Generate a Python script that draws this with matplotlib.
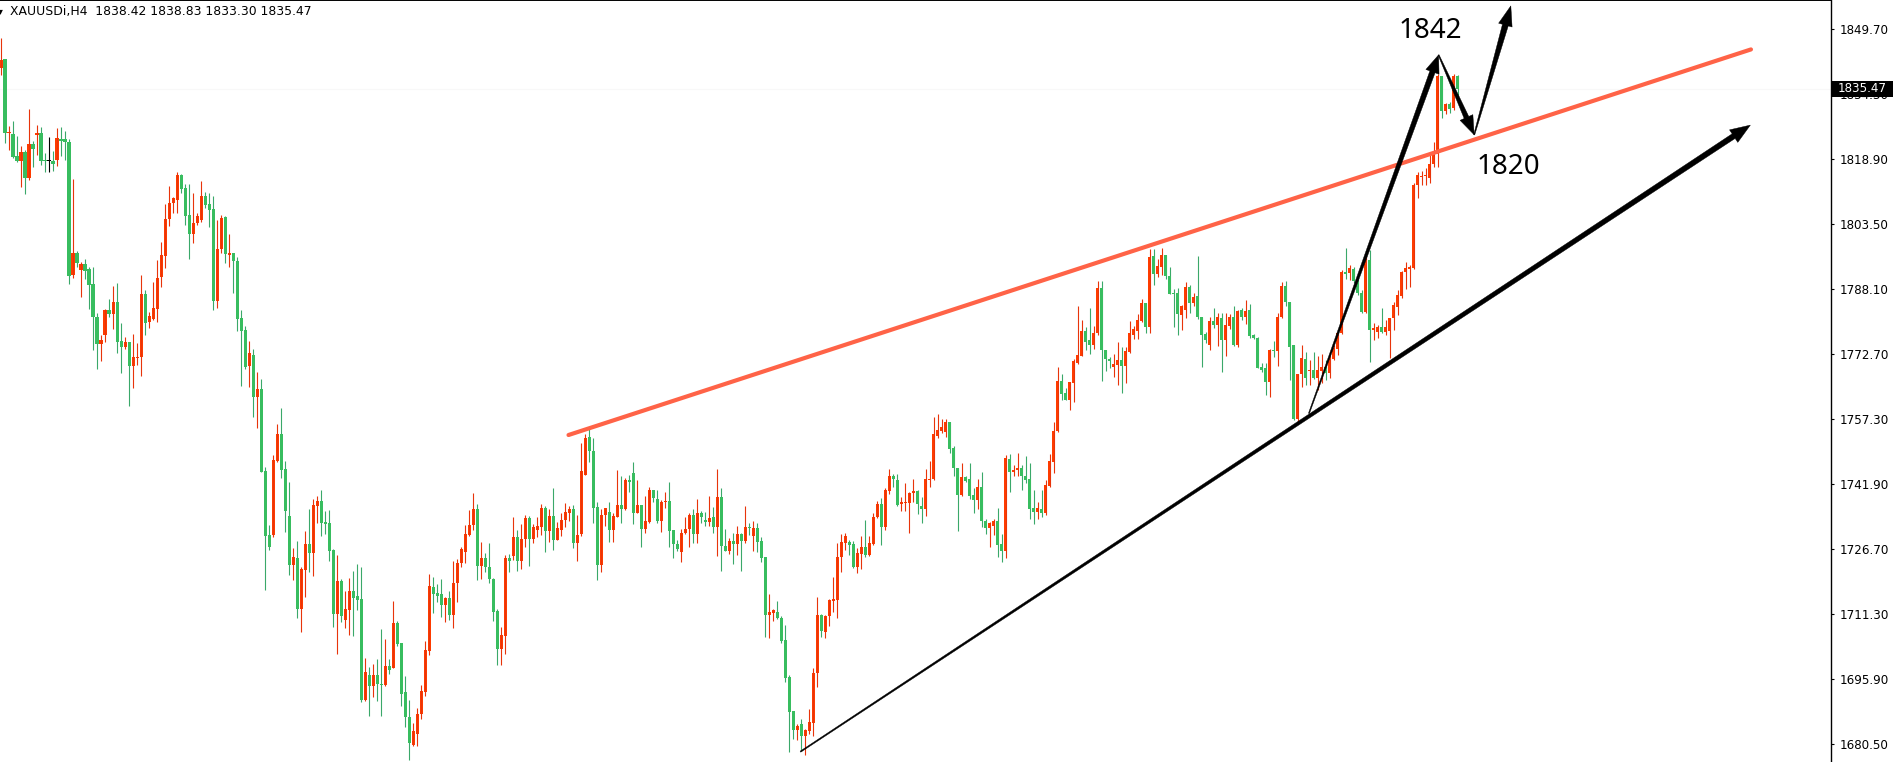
import numpy as np
import matplotlib
matplotlib.use("Agg")
import matplotlib.pyplot as plt
from matplotlib.patches import Polygon, Rectangle
from matplotlib.transforms import blended_transform_factory

# XAUUSDi H4 candles (oldest -> newest)
opens = [
    1840.3, 1842.5, 1825.1, 1824.8, 1819.6, 1818.5, 1820.5, 1814.5, 1822.4, 1824.6,
    1825.0, 1818.7, 1818.3, 1818.4, 1818.7, 1823.7, 1823.6, 1822.9, 1791.5, 1796.7,
    1792.6, 1794.1, 1792.9, 1789.3, 1781.5, 1775.2, 1777.3, 1783.2, 1782.3, 1785.1,
    1775.8, 1774.3, 1775.7, 1770.0, 1771.8, 1772.0, 1787.0, 1780.4, 1781.1, 1783.3,
    1790.9, 1796.0, 1804.6, 1808.4, 1809.3, 1815.1, 1812.0, 1805.6, 1801.2, 1803.7,
    1804.5, 1810.1, 1808.2, 1807.0, 1785.4, 1797.5, 1805.2, 1796.2, 1796.6, 1794.8,
    1781.3, 1778.4, 1769.9, 1772.5, 1762.7, 1764.4, 1745.1, 1730.0, 1730.0, 1747.5,
    1753.8, 1745.6, 1734.4, 1722.9, 1724.4, 1712.5, 1721.7, 1727.8, 1725.6, 1736.9,
    1738.0, 1733.0, 1732.7, 1726.4, 1711.3, 1719.1, 1709.9, 1712.2, 1716.6, 1715.5,
    1714.8, 1690.9, 1696.8, 1694.3, 1696.8, 1694.7, 1694.5, 1699.0, 1698.6, 1709.1,
    1704.3, 1692.7, 1686.8, 1680.3, 1683.0, 1687.5, 1692.9, 1702.6, 1717.7, 1716.2,
    1716.0, 1713.4, 1715.0, 1711.0, 1718.5, 1723.3, 1726.0, 1730.0, 1732.2, 1736.1,
    1722.7, 1724.4, 1722.4, 1719.6, 1712.0, 1703.0, 1706.1, 1724.5, 1725.0, 1729.5,
    1723.9, 1728.9, 1734.0, 1729.0, 1731.1, 1731.9, 1736.3, 1730.9, 1734.5, 1728.8,
    1731.1, 1733.5, 1735.2, 1736.0, 1728.1, 1730.2, 1744.2, 1753.1, 1749.8, 1736.5,
    1722.9, 1734.6, 1735.3, 1731.1, 1734.3, 1737.1, 1736.0, 1743.0, 1744.5, 1735.2,
    1737.1, 1731.4, 1733.1, 1740.6, 1738.5, 1733.3, 1737.7, 1738.0, 1731.1, 1727.8,
    1726.0, 1730.4, 1731.3, 1734.7, 1730.1, 1735.1, 1733.5, 1733.1, 1734.1, 1731.9,
    1738.9, 1727.4, 1726.2, 1728.5, 1727.8, 1730.2, 1728.6, 1731.8, 1729.7, 1731.5,
    1728.6, 1724.7, 1711.1, 1711.6, 1711.8, 1710.3, 1705.1, 1696.4, 1688.3, 1683.8,
    1685.3, 1682.3, 1683.7, 1685.6, 1697.2, 1711.0, 1706.9, 1710.8, 1714.4, 1714.6,
    1724.7, 1728.0, 1728.2, 1727.8, 1722.5, 1725.5, 1727.0, 1725.2, 1727.8, 1734.1,
    1737.4, 1731.9, 1740.4, 1743.8, 1743.0, 1737.3, 1737.6, 1737.6, 1740.0, 1740.4,
    1736.9, 1736.1, 1742.9, 1743.1, 1753.4, 1754.6, 1754.4, 1756.6, 1750.6, 1745.9,
    1739.4, 1743.6, 1743.2, 1739.4, 1738.2, 1741.2, 1733.3, 1731.5, 1732.1, 1733.3,
    1727.8, 1726.2, 1747.9, 1744.9, 1745.3, 1745.7, 1743.9, 1743.1, 1736.3, 1735.5,
    1736.0, 1735.1, 1741.6, 1747.3, 1754.5, 1766.4, 1763.6, 1761.9, 1766.0, 1770.6,
    1772.4, 1778.2, 1776.1, 1774.9, 1777.7, 1788.3, 1773.7, 1771.6, 1769.6, 1770.2,
    1771.4, 1770.0, 1773.3, 1777.3, 1778.3, 1780.6, 1784.8, 1779.2, 1795.9, 1791.7,
    1793.4, 1796.2, 1791.2, 1787.1, 1787.1, 1782.0, 1783.2, 1788.5, 1784.8, 1786.5,
    1781.4, 1777.5, 1775.0, 1780.6, 1779.6, 1781.2, 1776.1, 1779.4, 1781.4, 1774.9,
    1783.2, 1781.4, 1783.2, 1777.3, 1776.6, 1769.8, 1769.5, 1766.2, 1773.7, 1773.5,
    1781.6, 1788.9, 1785.1, 1774.9, 1757.3, 1768.0, 1771.5, 1768.7, 1768.9, 1767.0,
    1768.8, 1769.8, 1768.2, 1771.6, 1773.9, 1777.7, 1792.2, 1792.0, 1792.8, 1790.1,
    1787.1, 1782.8, 1795.0, 1778.4, 1778.0, 1779.1, 1778.0, 1778.2, 1781.2, 1783.9,
    1786.5, 1792.2, 1792.8, 1793.0, 1812.7, 1814.7, 1814.85, 1814.3, 1817.8, 1820.1,
    1838.5, 1830.3, 1832.0, 1830.9, 1838.42,
]
highs = [
    1847.4, 1842.5, 1826.7, 1827.9, 1824.3, 1822.0, 1820.9, 1830.7, 1823.2, 1826.9,
    1826.5, 1820.2, 1824.1, 1820.8, 1826.2, 1826.5, 1825.5, 1823.6, 1814.2, 1797.2,
    1794.5, 1795.2, 1793.4, 1793.3, 1782.4, 1777.3, 1783.3, 1785.8, 1788.8, 1789.6,
    1780.0, 1776.8, 1775.7, 1777.5, 1775.3, 1791.5, 1787.8, 1782.8, 1789.8, 1795.1,
    1799.3, 1808.2, 1812.5, 1810.0, 1815.8, 1815.3, 1813.0, 1812.9, 1810.9, 1806.2,
    1813.7, 1811.0, 1810.8, 1810.1, 1804.5, 1805.6, 1805.4, 1801.1, 1796.6, 1795.8,
    1783.2, 1779.4, 1775.9, 1774.0, 1768.5, 1766.8, 1746.0, 1732.3, 1748.9, 1756.2,
    1759.9, 1747.5, 1742.6, 1726.8, 1728.5, 1722.5, 1730.9, 1736.0, 1738.5, 1739.2,
    1740.6, 1735.6, 1735.9, 1726.6, 1725.2, 1719.5, 1716.7, 1719.7, 1721.4, 1723.2,
    1722.3, 1700.8, 1698.7, 1699.4, 1700.6, 1707.7, 1705.4, 1700.6, 1714.3, 1709.6,
    1704.3, 1696.6, 1690.9, 1685.6, 1689.1, 1694.5, 1704.9, 1720.7, 1719.9, 1718.4,
    1719.5, 1715.4, 1716.7, 1723.8, 1724.2, 1727.0, 1732.3, 1735.9, 1739.9, 1737.3,
    1728.2, 1725.6, 1728.0, 1719.8, 1712.5, 1708.3, 1725.2, 1725.5, 1734.2, 1731.1,
    1732.6, 1734.7, 1734.5, 1732.5, 1734.2, 1737.3, 1736.8, 1736.1, 1741.0, 1733.1,
    1735.1, 1737.6, 1736.8, 1737.1, 1734.7, 1751.8, 1753.8, 1755.4, 1752.8, 1737.7,
    1736.1, 1736.3, 1737.7, 1735.1, 1745.3, 1743.8, 1743.5, 1744.2, 1747.1, 1743.0,
    1737.1, 1739.2, 1741.2, 1740.6, 1740.6, 1738.2, 1740.2, 1742.6, 1731.1, 1728.8,
    1731.4, 1734.3, 1735.1, 1736.0, 1738.5, 1735.7, 1735.3, 1739.2, 1736.5, 1745.5,
    1741.0, 1731.4, 1729.3, 1730.5, 1732.1, 1730.5, 1736.8, 1732.9, 1733.3, 1732.7,
    1729.4, 1724.8, 1716.0, 1712.5, 1714.4, 1710.8, 1708.7, 1696.8, 1688.3, 1685.3,
    1686.4, 1684.0, 1688.7, 1698.4, 1715.4, 1711.3, 1711.0, 1714.8, 1719.9, 1728.1,
    1730.3, 1730.5, 1728.8, 1728.6, 1726.8, 1729.7, 1733.5, 1729.7, 1735.1, 1738.0,
    1738.6, 1741.0, 1745.5, 1744.4, 1744.4, 1739.0, 1742.3, 1740.2, 1743.2, 1740.6,
    1739.0, 1745.5, 1747.5, 1757.8, 1758.5, 1757.3, 1757.4, 1756.6, 1750.9, 1745.9,
    1746.9, 1743.9, 1746.9, 1741.0, 1743.1, 1744.9, 1733.7, 1733.1, 1733.7, 1736.3,
    1730.1, 1748.9, 1749.1, 1746.5, 1749.3, 1746.5, 1748.6, 1746.9, 1740.6, 1737.8,
    1740.6, 1743.0, 1749.1, 1756.7, 1769.8, 1768.0, 1764.7, 1766.1, 1771.5, 1784.0,
    1780.8, 1779.2, 1783.7, 1779.5, 1790.1, 1790.1, 1773.7, 1772.0, 1772.8, 1775.5,
    1774.5, 1774.3, 1780.6, 1779.5, 1782.2, 1785.8, 1784.8, 1797.6, 1797.6, 1795.2,
    1797.8, 1796.2, 1793.4, 1788.1, 1788.3, 1784.4, 1789.9, 1789.1, 1787.1, 1796.0,
    1781.4, 1777.9, 1781.4, 1783.6, 1782.4, 1782.4, 1782.4, 1782.2, 1784.0, 1783.2,
    1783.6, 1785.5, 1784.5, 1777.5, 1776.9, 1770.6, 1770.6, 1774.0, 1775.9, 1782.4,
    1789.9, 1790.0, 1785.1, 1774.9, 1768.1, 1774.9, 1773.3, 1771.3, 1773.3, 1772.3,
    1772.7, 1771.3, 1772.9, 1774.9, 1778.4, 1792.6, 1797.8, 1793.8, 1793.4, 1790.7,
    1787.9, 1796.6, 1797.4, 1780.0, 1779.6, 1783.6, 1780.8, 1781.3, 1785.1, 1787.9,
    1792.5, 1794.6, 1793.8, 1813.1, 1815.7, 1816.1, 1816.7, 1820.6, 1823.0, 1839.1,
    1838.6, 1832.2, 1832.4, 1839.0, 1838.83,
]
lows = [
    1838.7, 1822.7, 1820.9, 1819.2, 1818.2, 1812.3, 1810.5, 1813.9, 1817.1, 1819.8,
    1817.5, 1815.9, 1815.9, 1816.1, 1817.2, 1819.6, 1818.7, 1789.3, 1790.7, 1793.4,
    1786.3, 1790.4, 1783.5, 1773.7, 1769.2, 1771.0, 1775.7, 1781.4, 1778.7, 1773.1,
    1768.2, 1773.9, 1760.5, 1764.8, 1770.2, 1767.6, 1777.2, 1778.8, 1780.8, 1780.4,
    1788.7, 1793.2, 1803.1, 1806.0, 1806.0, 1810.8, 1803.3, 1795.3, 1798.9, 1803.3,
    1804.1, 1807.2, 1802.9, 1783.2, 1783.6, 1796.7, 1794.4, 1793.3, 1787.1, 1778.2,
    1765.3, 1769.1, 1765.0, 1757.9, 1755.3, 1744.8, 1716.9, 1726.4, 1729.5, 1747.3,
    1743.4, 1730.7, 1720.5, 1719.3, 1710.4, 1707.1, 1715.4, 1721.3, 1720.3, 1732.7,
    1729.8, 1730.2, 1723.8, 1708.3, 1701.8, 1709.4, 1707.9, 1706.3, 1706.0, 1712.2,
    1690.5, 1690.8, 1687.2, 1691.6, 1690.8, 1687.2, 1694.3, 1697.0, 1698.5, 1703.7,
    1689.5, 1684.6, 1676.7, 1680.1, 1680.1, 1686.4, 1691.9, 1701.6, 1711.6, 1714.2,
    1710.6, 1709.4, 1709.9, 1708.0, 1714.2, 1722.5, 1723.3, 1729.7, 1731.1, 1719.2,
    1719.5, 1721.3, 1718.7, 1709.7, 1699.1, 1699.2, 1701.8, 1721.3, 1724.0, 1721.5,
    1721.9, 1727.0, 1722.7, 1728.1, 1729.4, 1730.0, 1726.0, 1728.2, 1726.4, 1728.7,
    1729.6, 1731.9, 1733.3, 1726.8, 1723.8, 1729.7, 1744.1, 1747.3, 1732.7, 1719.2,
    1721.3, 1732.1, 1728.4, 1728.4, 1734.1, 1732.9, 1735.9, 1740.2, 1732.5, 1735.1,
    1727.2, 1730.5, 1732.7, 1737.8, 1732.9, 1730.7, 1736.3, 1727.2, 1724.6, 1726.2,
    1723.6, 1730.3, 1727.0, 1728.1, 1728.1, 1732.7, 1732.1, 1732.1, 1730.5, 1724.9,
    1721.5, 1726.1, 1725.5, 1723.1, 1725.2, 1721.5, 1728.0, 1730.0, 1726.2, 1726.0,
    1723.6, 1705.9, 1705.7, 1709.7, 1710.0, 1704.5, 1695.3, 1678.7, 1681.6, 1681.5,
    1678.9, 1677.9, 1683.0, 1682.3, 1693.9, 1705.9, 1705.7, 1708.4, 1711.8, 1710.4,
    1721.3, 1726.4, 1725.2, 1722.1, 1721.0, 1721.8, 1724.8, 1725.0, 1727.6, 1733.9,
    1727.6, 1731.1, 1739.6, 1741.4, 1736.8, 1735.7, 1735.7, 1730.5, 1737.8, 1734.9,
    1732.9, 1734.5, 1741.4, 1742.9, 1753.0, 1754.0, 1753.1, 1749.3, 1744.0, 1731.0,
    1739.2, 1742.6, 1738.4, 1735.1, 1736.0, 1731.9, 1730.2, 1727.2, 1730.0, 1724.8,
    1723.6, 1724.4, 1740.2, 1743.8, 1743.8, 1740.6, 1742.2, 1733.7, 1732.5, 1733.7,
    1734.3, 1734.7, 1741.4, 1744.5, 1754.4, 1761.9, 1761.9, 1759.5, 1761.3, 1770.4,
    1772.2, 1773.6, 1772.8, 1773.9, 1777.3, 1766.4, 1768.8, 1769.5, 1767.4, 1765.4,
    1763.5, 1766.0, 1773.1, 1776.2, 1776.2, 1780.4, 1777.7, 1777.7, 1789.1, 1790.9,
    1791.5, 1790.4, 1786.9, 1779.2, 1777.3, 1778.4, 1781.2, 1782.4, 1784.0, 1781.0,
    1769.8, 1775.3, 1773.7, 1778.8, 1774.7, 1768.6, 1772.4, 1778.6, 1774.7, 1774.5,
    1780.8, 1779.9, 1776.5, 1776.2, 1769.5, 1768.6, 1763.1, 1762.5, 1772.0, 1770.0,
    1781.2, 1784.0, 1766.6, 1757.2, 1756.7, 1765.0, 1765.4, 1765.4, 1766.9, 1764.3,
    1765.8, 1766.6, 1767.0, 1771.3, 1772.5, 1777.6, 1790.4, 1790.3, 1789.6, 1786.7,
    1782.4, 1782.4, 1770.9, 1776.1, 1776.5, 1777.7, 1777.3, 1771.7, 1778.4, 1782.0,
    1785.9, 1788.1, 1788.7, 1792.8, 1809.6, 1812.7, 1812.7, 1813.1, 1817.1, 1817.1,
    1828.5, 1829.5, 1829.7, 1830.5, 1833.30,
]
closes = [
    1842.3, 1825.1, 1825.3, 1819.4, 1818.5, 1820.5, 1814.5, 1822.4, 1821.3, 1825.0,
    1818.5, 1818.3, 1818.3, 1817.8, 1823.9, 1823.2, 1822.8, 1791.3, 1796.7, 1794.2,
    1794.1, 1792.5, 1789.1, 1781.4, 1775.2, 1776.1, 1783.2, 1782.2, 1785.1, 1775.7,
    1774.3, 1775.6, 1770.0, 1772.0, 1772.0, 1787.0, 1780.2, 1781.7, 1783.6, 1790.7,
    1796.1, 1804.7, 1808.4, 1809.7, 1815.1, 1811.9, 1805.5, 1801.2, 1803.7, 1805.3,
    1810.1, 1808.1, 1806.8, 1785.4, 1797.5, 1804.9, 1796.3, 1796.6, 1794.8, 1781.1,
    1778.3, 1769.8, 1772.9, 1762.7, 1764.4, 1744.9, 1729.8, 1727.2, 1747.7, 1753.8,
    1745.3, 1735.6, 1722.9, 1724.7, 1712.5, 1721.9, 1727.8, 1725.6, 1737.0, 1738.0,
    1732.9, 1732.6, 1726.2, 1711.3, 1719.1, 1710.8, 1712.5, 1716.6, 1715.1, 1714.6,
    1690.9, 1697.5, 1694.3, 1696.8, 1694.6, 1694.55, 1699.0, 1698.0, 1709.1, 1704.2,
    1692.3, 1686.8, 1680.7, 1683.6, 1687.6, 1693.1, 1702.8, 1717.9, 1716.0, 1715.5,
    1713.4, 1715.1, 1711.0, 1718.5, 1723.3, 1726.6, 1730.2, 1732.2, 1736.0, 1722.7,
    1724.4, 1722.5, 1719.5, 1711.8, 1703.0, 1706.3, 1724.5, 1723.9, 1729.5, 1723.9,
    1729.0, 1734.0, 1729.0, 1731.8, 1732.1, 1736.3, 1730.9, 1734.5, 1728.8, 1731.5,
    1733.5, 1735.4, 1736.0, 1728.0, 1730.0, 1745.1, 1752.8, 1749.8, 1736.4, 1722.9,
    1734.6, 1736.3, 1731.1, 1734.5, 1737.1, 1736.0, 1743.0, 1742.6, 1735.2, 1737.1,
    1731.4, 1733.3, 1740.6, 1738.8, 1733.3, 1737.7, 1738.0, 1731.0, 1727.8, 1726.6,
    1730.4, 1731.4, 1734.7, 1730.1, 1735.1, 1734.1, 1733.1, 1733.9, 1731.9, 1738.9,
    1727.4, 1726.2, 1728.5, 1727.8, 1730.2, 1728.6, 1731.8, 1731.5, 1731.5, 1728.4,
    1724.6, 1711.1, 1711.8, 1712.1, 1710.3, 1704.9, 1696.2, 1688.2, 1683.8, 1684.8,
    1682.3, 1683.8, 1685.8, 1697.2, 1711.0, 1707.3, 1710.8, 1714.6, 1714.7, 1724.7,
    1728.2, 1729.7, 1727.6, 1722.5, 1725.6, 1727.0, 1725.2, 1728.0, 1734.1, 1737.4,
    1731.9, 1740.6, 1743.8, 1743.2, 1737.0, 1737.8, 1737.8, 1740.0, 1740.4, 1737.3,
    1736.1, 1743.1, 1743.2, 1753.8, 1754.8, 1755.6, 1756.6, 1750.3, 1745.9, 1739.4,
    1743.6, 1742.8, 1739.2, 1738.2, 1741.2, 1733.3, 1731.5, 1732.7, 1733.3, 1727.6,
    1726.2, 1748.1, 1744.9, 1745.3, 1745.7, 1743.8, 1743.0, 1736.1, 1735.5, 1736.3,
    1735.1, 1741.8, 1747.5, 1754.5, 1766.4, 1763.3, 1761.9, 1766.1, 1771.1, 1772.5,
    1778.2, 1775.7, 1774.9, 1777.7, 1788.3, 1773.6, 1771.5, 1771.2, 1770.4, 1771.4,
    1770.0, 1773.5, 1777.7, 1778.7, 1780.8, 1784.8, 1779.2, 1795.6, 1791.7, 1793.6,
    1796.2, 1791.2, 1787.0, 1787.0, 1782.2, 1784.0, 1788.5, 1784.8, 1786.3, 1781.4,
    1777.3, 1776.1, 1780.6, 1779.6, 1781.4, 1776.1, 1779.6, 1781.4, 1774.9, 1782.9,
    1781.4, 1782.9, 1777.0, 1776.5, 1769.5, 1769.0, 1766.2, 1773.7, 1773.4, 1781.4,
    1788.9, 1785.0, 1774.5, 1757.3, 1768.0, 1771.7, 1767.0, 1768.9, 1767.0, 1768.9,
    1769.8, 1768.2, 1771.7, 1774.1, 1777.7, 1792.2, 1791.8, 1793.0, 1790.1, 1787.1,
    1782.8, 1795.0, 1778.4, 1778.8, 1779.1, 1778.0, 1779.2, 1781.2, 1784.4, 1786.7,
    1792.2, 1793.0, 1793.4, 1812.7, 1815.1, 1814.95, 1815.1, 1817.8, 1820.2, 1838.5,
    1830.3, 1832.0, 1830.6, 1838.5, 1835.47,
]

ytick_values = [1849.70, 1834.30, 1818.90, 1803.50, 1788.10, 1772.70,
                1757.30, 1741.90, 1726.70, 1711.30, 1695.90, 1680.50]
header = "XAUUSDi,H4  1838.42 1838.83 1833.30 1835.47"
last_price = 1835.47

# hand drawn lines on the chart: (candle index, price)
resistance = [(141.8, 1753.6), (437.25, 1844.8)]
support = [(199.75, 1678.7), (437.1, 1826.9)]
leg_up = [(326.8, 1758.7), (359.2, 1843.5)]
leg_down = [(359.2, 1843.5), (368.1, 1824.6)]
leg_up2 = [(368.1, 1824.6), (377.25, 1855.1)]
labels = [("1842", 357.2, 1849.2), ("1820", 376.6, 1816.9)]

UP = "#ff3c00"
UP_WICK = "#e8340a"
DOWN = "#38bd5f"
DOWN_WICK = "#3aa86a"

W, H = 1893, 762
fig = plt.figure(figsize=(W / 100, H / 100), dpi=100)
ax = fig.add_axes([0, 0, 1831 / W, 1])
ax.set_xlim(-0.25, 457.25)
ax.set_ylim(1676.26, 1856.49)

o = np.array(opens)
h = np.array(highs)
l = np.array(lows)
c = np.array(closes)
x = np.arange(len(c))

up = c > o
dn = c < o
flat = ~(up | dn)

# wicks
ax.vlines(x[dn], l[dn], h[dn], color=DOWN_WICK, lw=0.8, zorder=2)
ax.vlines(x[flat], l[flat], h[flat], color="black", lw=0.8, zorder=2)
# bodies
bot = np.minimum(o, c)
hgt = np.maximum(np.abs(c - o), 0.25)
ax.bar(x[dn], hgt[dn], bottom=bot[dn], width=0.78, color=DOWN, lw=0, zorder=3)
ax.bar(x[up], hgt[up], bottom=bot[up], width=0.78, color=UP, lw=0, zorder=3)
ax.bar(x[flat], hgt[flat], bottom=bot[flat], width=0.78, color="black", lw=0, zorder=3)
ax.vlines(x[up], l[up], h[up], color=UP_WICK, lw=0.8, zorder=4)

# faint current price line
ax.axhline(last_price, color="#f8f8f8", lw=0.8, zorder=1)

# resistance line
(rx0, ry0), (rx1, ry1) = resistance
ax.plot([rx0, rx1], [ry0, ry1], color="#ff6347", lw=3.0,
        solid_capstyle="round", zorder=5)


def taper_arrow(p0, p1, w0, w1, head_w, head_l, color="black"):
    # tapered shaft + triangular head, widths given in pixels
    T = ax.transData
    a = T.transform(p0)
    b = T.transform(p1)
    d = b - a
    u = d / np.hypot(*d)
    n = np.array([-u[1], u[0]])
    base = b - u * head_l
    pts = [a + n * w0 / 2, base + n * w1 / 2, base + n * head_w / 2, b,
           base - n * head_w / 2, base - n * w1 / 2, a - n * w0 / 2]
    ax.add_patch(Polygon(T.inverted().transform(pts), closed=True,
                         fc=color, ec=color, lw=0.3, zorder=6))


taper_arrow(support[0], support[1], 1.2, 5.5, 15, 20)
taper_arrow(leg_up[0], leg_up[1], 1.0, 5.5, 14, 18)
taper_arrow(leg_down[0], leg_down[1], 1.0, 5.0, 14, 19)
taper_arrow(leg_up2[0], leg_up2[1], 1.0, 6.0, 14, 20)

for txt, tx, ty in labels:
    ax.text(tx, ty, txt, fontsize=20, family="Noto Sans", color="black",
            ha="center", va="center", zorder=7)

# frame: only top and right like the terminal
for s in ("left", "bottom"):
    ax.spines[s].set_visible(False)
ax.spines["top"].set_linewidth(1.4)
ax.spines["right"].set_linewidth(1.0)
ax.set_xticks([])
ax.yaxis.tick_right()
ax.set_yticks(ytick_values)
ax.set_yticklabels([f"{v:.2f}" for v in ytick_values])
ax.tick_params(axis="y", direction="out", length=2.5, width=0.8,
               pad=3.5, labelsize=8.6, colors="black")

# current price tag on the axis (drawn over the 1834.30 label, as in the terminal)
tb = blended_transform_factory(ax.transAxes, ax.transData)
ax.add_patch(Rectangle((1.0006, last_price - 1.96), 0.034, 3.92, transform=tb,
                       fc="black", ec="none", clip_on=False, zorder=10))
ax.text(1.0039, last_price, f"{last_price:.2f}", transform=tb, color="white",
        fontsize=8.6, va="center", ha="left", zorder=11, clip_on=False)

fig.text(10 / W, 1 - 12 / H, header, fontsize=8.9, va="center", ha="left",
         color="black")
fig.text(-2 / W, 1 - 11 / H, "\u25be", fontsize=7, va="center", ha="left",
         color="black")

fig.savefig("out.png", dpi=100, facecolor="white")
